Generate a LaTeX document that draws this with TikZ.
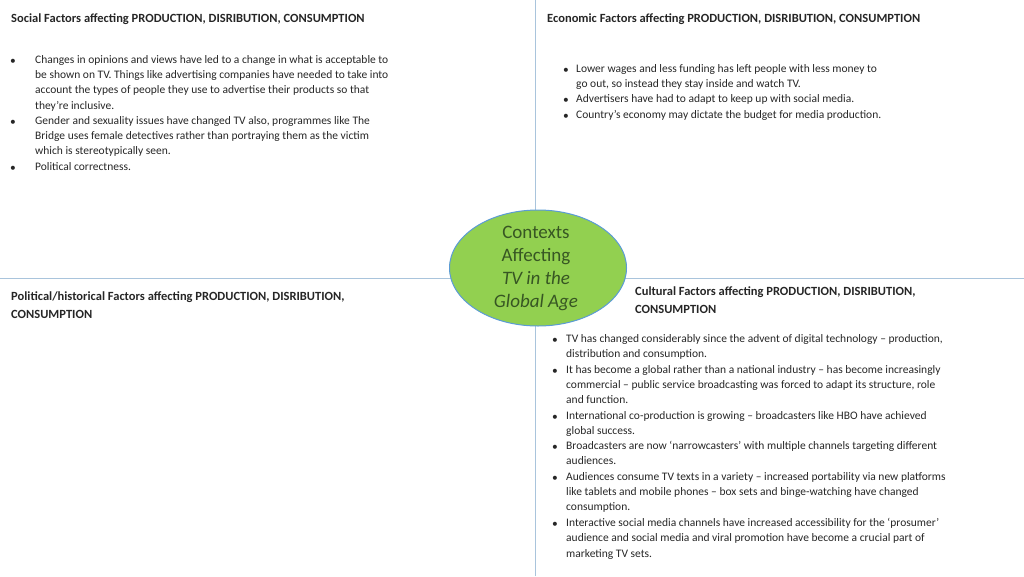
\documentclass[tikz,border=0pt]{standalone}
\usepackage{fontspec}
\usetikzlibrary{shapes.geometric}
\setmainfont{Carlito}
\definecolor{linec}{HTML}{A9C4DC}
\definecolor{ellf}{HTML}{92D050}
\definecolor{elld}{HTML}{5B9BD5}
\definecolor{ellt}{HTML}{375623}
\definecolor{txtc}{HTML}{262626}
\begin{document}
\begin{tikzpicture}[x=1pt,y=-1pt,
  txt/.style={anchor=west,align=left,inner sep=0pt,font=\fontsize{11.5}{15.4}\selectfont,text=txtc},
  head/.style={anchor=west,align=left,inner sep=0pt,font=\bfseries\fontsize{12.5}{18}\selectfont,text=txtc},
  bul/.style={anchor=west,inner sep=0pt,font=\fontsize{11.5}{15.4}\selectfont,text=txtc}]
\useasboundingbox (0,0) rectangle (1024,576);
\coordinate (vt) at (535,0); \coordinate (vb) at (535,576);
\coordinate (hl) at (0,278); \coordinate (hr) at (1024,278);
\draw[linec,line width=0.8pt] (vt)--(vb) (hl)--(hr);
\node[head] (h1) at (11,19) {Social Factors affecting PRODUCTION, DISRIBUTION, CONSUMPTION};
\node[head] (h2) at (547,19) {Economic Factors affecting PRODUCTION, DISRIBUTION, CONSUMPTION};
\node[head] (h3) at (11,305) {Political/historical Factors affecting PRODUCTION, DISRIBUTION,\\CONSUMPTION};
\node[head] (h4) at (635,300) {Cultural Factors affecting PRODUCTION, DISRIBUTION,\\CONSUMPTION};
% social
\node[bul] (s1b) at (10,62) {•};
\node[txt,anchor=north west] (s1) at (35,55) {Changes in opinions and views have led to a change in what is acceptable to\\be shown on TV. Things like advertising companies have needed to take into\\account the types of people they use to advertise their products so that\\they’re inclusive.};
\node[bul] (s2b) at (10,123) {•};
\node[txt,anchor=north west] (s2) at (35,116) {Gender and sexuality issues have changed TV also, programmes like The\\Bridge uses female detectives rather than portraying them as the victim\\which is stereotypically seen.};
\node[bul] (s3b) at (10,169) {•};
\node[txt,anchor=north west] (s3) at (35,162) {Political correctness.};
% economic
\node[bul] (e1b) at (563,71) {•};
\node[txt,anchor=north west] (e1) at (576,64) {Lower wages and less funding has left people with less money to\\go out, so instead they stay inside and watch TV.};
\node[bul] (e2b) at (563,101) {•};
\node[txt,anchor=north west] (e2) at (576,94) {Advertisers have had to adapt to keep up with social media.};
\node[bul] (e3b) at (563,117) {•};
\node[txt,anchor=north west] (e3) at (576,110) {Country’s economy may dictate the budget for media production.};
% cultural
\node[bul] (c1b) at (552,341) {•};
\node[txt,anchor=north west] (c1) at (566,334) {TV has changed considerably since the advent of digital technology – production,\\distribution and consumption.};
\node[bul] (c2b) at (552,372) {•};
\node[txt,anchor=north west] (c2) at (566,365) {It has become a global rather than a national industry – has become increasingly\\commercial – public service broadcasting was forced to adapt its structure, role\\and function.};
\node[bul] (c3b) at (552,418) {•};
\node[txt,anchor=north west] (c3) at (566,411) {International co-production is growing – broadcasters like HBO have achieved\\global success.};
\node[bul] (c4b) at (552,448) {•};
\node[txt,anchor=north west] (c4) at (566,441) {Broadcasters are now ‘narrowcasters’ with multiple channels targeting different\\audiences.};
\node[bul] (c5b) at (552,479) {•};
\node[txt,anchor=north west] (c5) at (566,472) {Audiences consume TV texts in a variety – increased portability via new platforms\\like tablets and mobile phones – box sets and binge-watching have changed\\consumption.};
\node[bul] (c6b) at (552,525) {•};
\node[txt,anchor=north west] (c6) at (566,518) {Interactive social media channels have increased accessibility for the ‘prosumer’\\audience and social media and viral promotion have become a crucial part of\\marketing TV sets.};
% ellipse
\node[ellipse,draw=elld,fill=ellf,line width=1pt,minimum width=177,minimum height=116,inner sep=0pt] (el) at (538,268) {};
\node[align=center,inner sep=0pt,text=ellt,font=\fontsize{19}{23}\selectfont] (et) at (536,268) {Contexts\\Affecting\\\textit{TV in the}\\\textit{Global Age}};
\end{tikzpicture}
\end{document}
